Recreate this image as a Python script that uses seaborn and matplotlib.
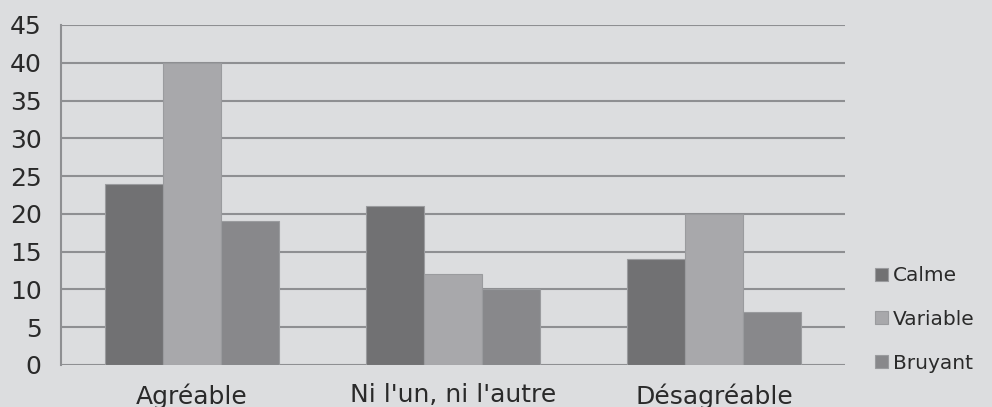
import pandas as pd
import seaborn as sns
import matplotlib.pyplot as plt

categories = ["Agréable", "Ni l'un, ni l'autre", "Désagréable"]
series = ["Calme", "Variable", "Bruyant"]
calme = [24, 21, 14]
variable = [40, 12, 20]
bruyant = [19, 10, 7]
y_ticks = [0, 5, 10, 15, 20, 25, 30, 35, 40, 45]

colors = ["#707174", "#a7a8ab", "#87888b"]
bg = "#dcdddf"
grid_col = "#8e8f92"

df = pd.DataFrame({
    "Catégorie": categories * 3,
    "Série": [s for s in series for _ in categories],
    "Valeur": calme + variable + bruyant,
})

sns.set_theme(style="white")
plt.rcParams["font.family"] = ["DejaVu Sans"]

fig = plt.figure(figsize=(9.92, 4.07), dpi=100, facecolor=bg)
ax = fig.add_axes([61 / 992, 1 - 365 / 407, (845 - 61) / 992, (365 - 25) / 407])
ax.set_facecolor(bg)

sns.barplot(
    data=df, x="Catégorie", y="Valeur", hue="Série",
    palette=colors, width=2 / 3, gap=0, ax=ax,
    edgecolor="#9a9b9e", linewidth=0.8, zorder=3,
)

ax.set_ylim(0, 45)
ax.set_yticks(y_ticks)
ax.set_xlim(-0.5, 2.5)
for t in y_ticks:
    ax.axhline(t, color=grid_col, lw=1.5, zorder=1)

for side in ["top", "right", "bottom"]:
    ax.spines[side].set_visible(False)
ax.spines["left"].set_color(grid_col)
ax.spines["left"].set_linewidth(1.5)

ax.tick_params(axis="y", length=0, pad=14, labelsize=18, labelcolor="#2a2a2a")
ax.tick_params(axis="x", length=0, pad=13, labelsize=18, labelcolor="#2a2a2a")
ax.set_xlabel("")
ax.set_ylabel("")

handles, labels = ax.get_legend_handles_labels()
ax.legend(
    handles, labels, loc="center left", bbox_to_anchor=(1.028, 0.134),
    borderaxespad=0, frameon=False, fontsize=14.5, handlelength=0.63,
    handleheight=0.63, handletextpad=0.25, labelspacing=1.22,
    labelcolor="#2a2a2a",
)

fig.savefig("out.png", dpi=100, facecolor=bg)
